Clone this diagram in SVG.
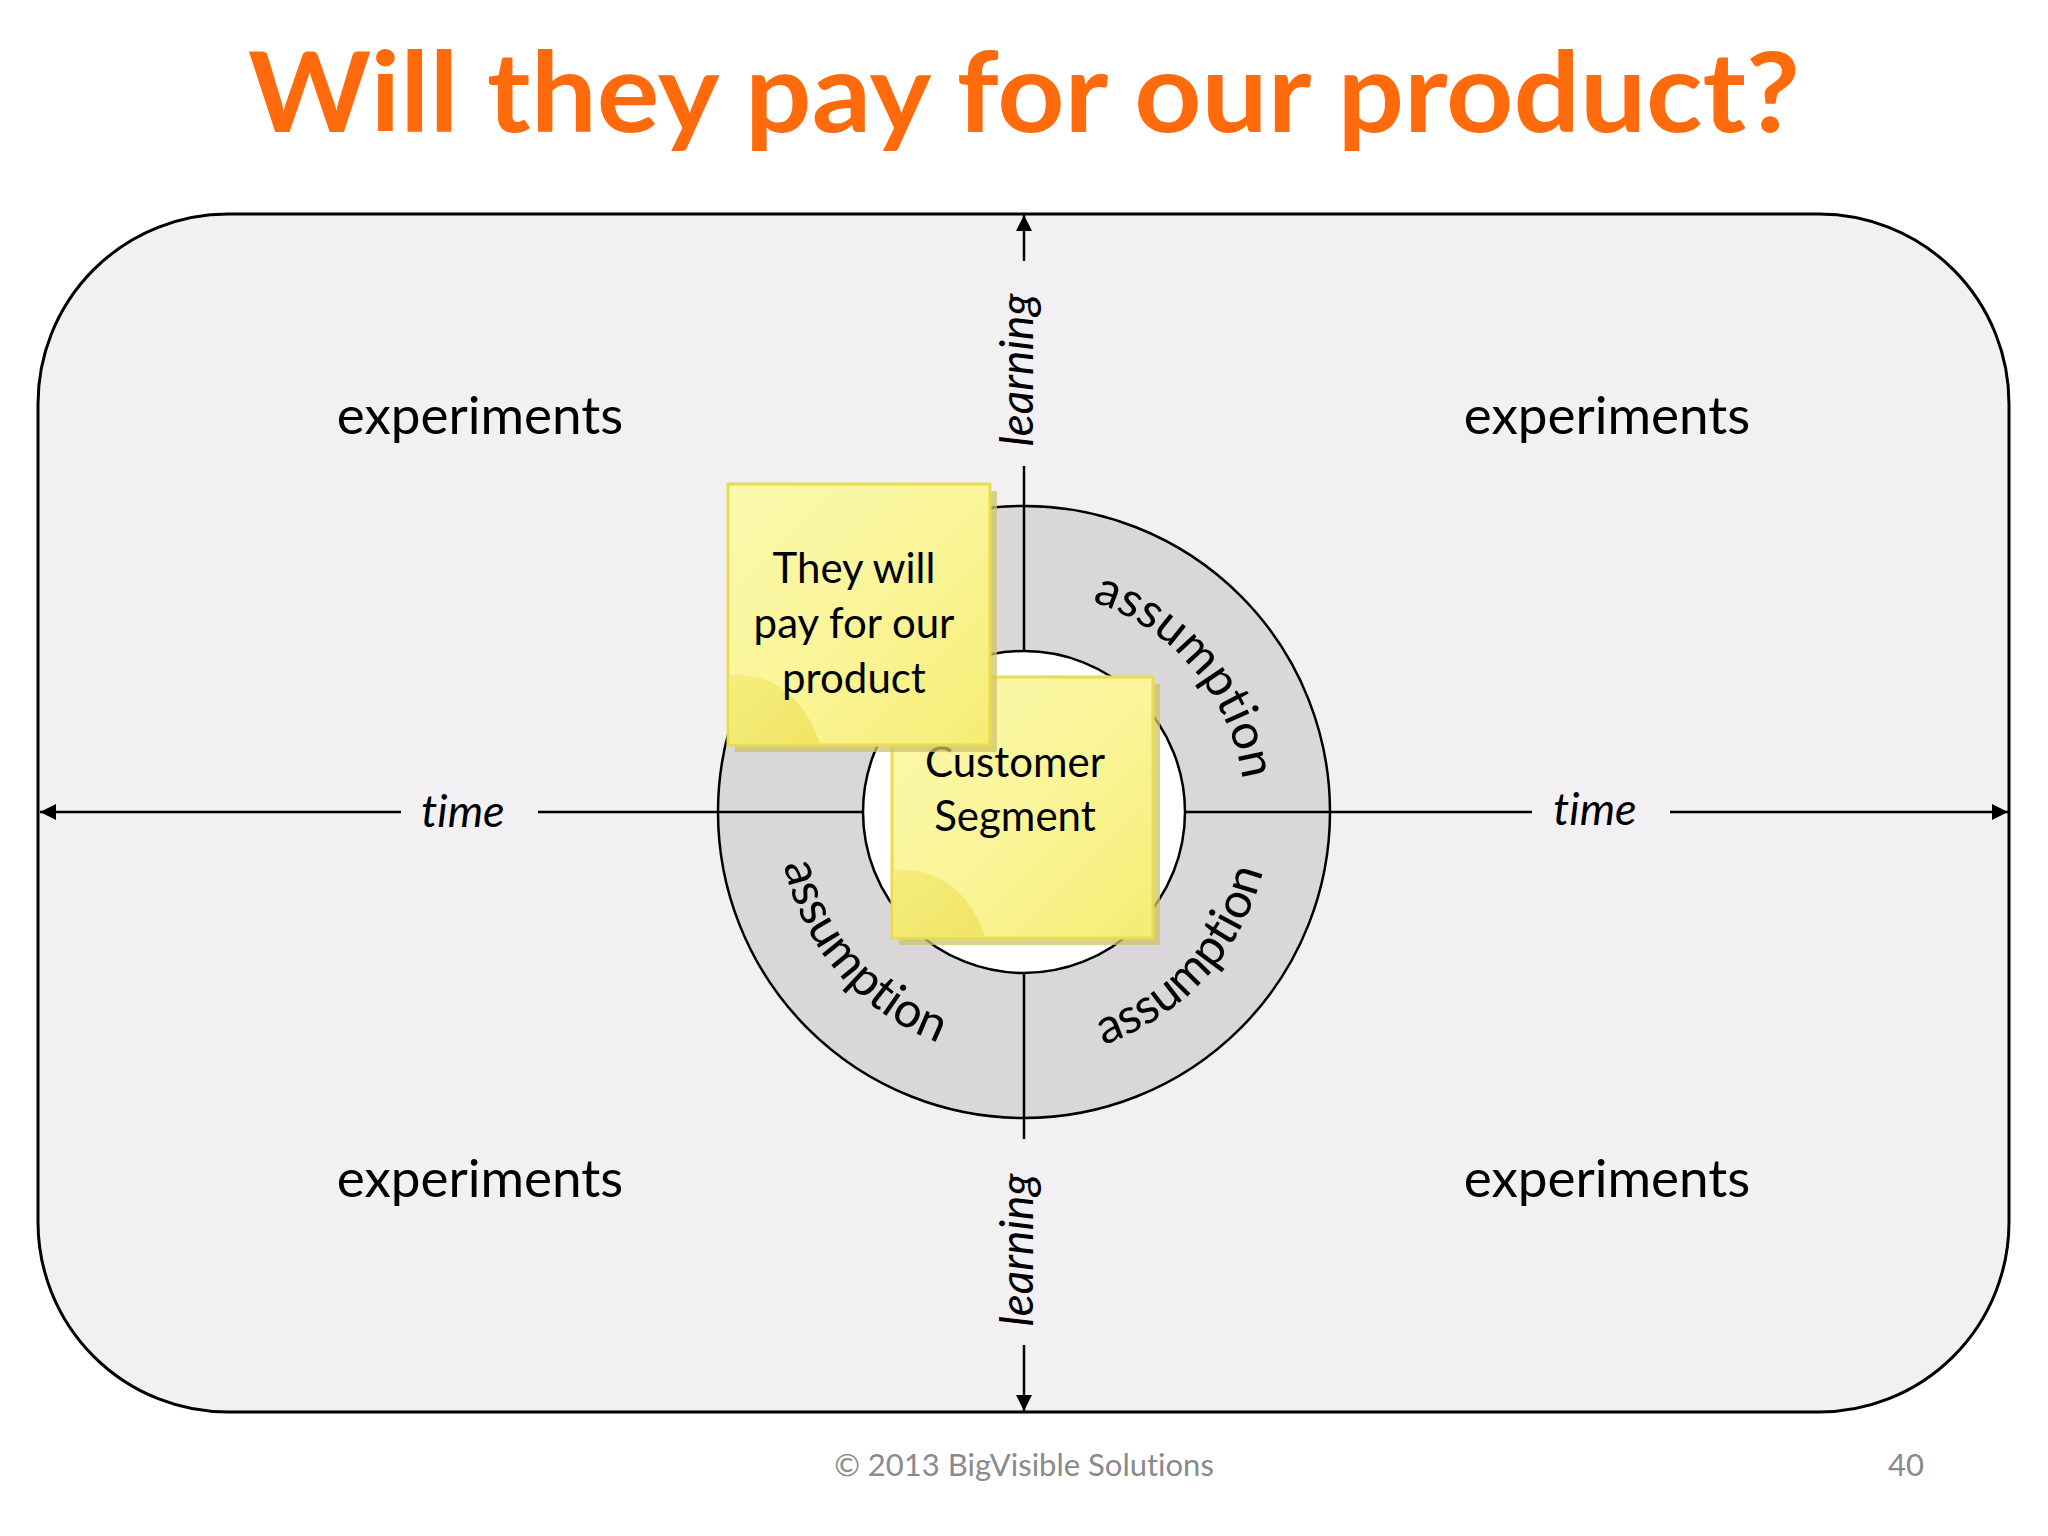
<svg xmlns="http://www.w3.org/2000/svg" width="2048" height="1536" viewBox="0 0 2048 1536">
  <defs>
    <style>
      .lbl { font-family: Lato, "Open Sans", "Liberation Sans", sans-serif; fill: #000; font-variant-ligatures: none; font-feature-settings: "liga" 0, "clig" 0, "dlig" 0; }
      .exp { font-size: 53px; text-anchor: middle; }
      .it { font-style: italic; font-size: 45px; text-anchor: middle; }
      .learn { font-size: 46px; }
      .note { font-size: 42px; text-anchor: middle; }
      .ass { font-size: 49px; }
      .axis { stroke: #000; stroke-width: 2.5; fill: none; }
      .ring { stroke: #000; stroke-width: 2.5; }
      .sticky { fill: url(#stickyGrad); stroke: #e9dc52; stroke-width: 3; }
      .shadow { fill: #cdc36a; opacity: 0.75; }
      .curl { fill: url(#curlGrad); }
      .foot { font-family: Lato, "Open Sans", "Liberation Sans", sans-serif; font-size: 31px; fill: #8a8a8a; font-variant-ligatures: none; font-feature-settings: "liga" 0, "clig" 0, "dlig" 0; }
    </style>
    <marker id="ah" viewBox="0 0 10 10" refX="10" refY="5" markerWidth="20" markerHeight="16" markerUnits="userSpaceOnUse" orient="auto">
      <path d="M0,0 L10,5 L0,10 z" fill="#000"/>
    </marker>
    <linearGradient id="stickyGrad" x1="0" y1="0" x2="1" y2="1">
      <stop offset="0" stop-color="#fbf8ad"/>
      <stop offset="0.5" stop-color="#faf599"/>
      <stop offset="1" stop-color="#f6ec74"/>
    </linearGradient>
    <linearGradient id="curlGrad" x1="0" y1="0" x2="1" y2="1">
      <stop offset="0" stop-color="#f6ee7c"/>
      <stop offset="1" stop-color="#efe466"/>
    </linearGradient>
    <path id="arcTop" d="M1024,591 A221,221 0 0 1 1024,1033 A221,221 0 0 1 1024,591"/>
    <path id="arcBot" d="M778,812 A246,246 0 0 0 1270,812 A246,246 0 0 0 778,812"/>
  </defs>

  <rect width="2048" height="1536" fill="#ffffff"/>

  <g id="title">
    <text x="1024" y="132" textLength="1552" lengthAdjust="spacingAndGlyphs" style="font-family: Lato, 'Open Sans', 'Liberation Sans', sans-serif; font-weight: bold; font-size: 112px; fill: #ff6a0c; text-anchor: middle;">Will they pay for our product?</text>
  </g>

  <g id="canvas">
    <rect x="38" y="214" width="1971" height="1198" rx="190" ry="190" fill="#f2f0f3" stroke="#000" stroke-width="3"/>
  </g>

  <g id="ring-outer">
    <circle cx="1024" cy="812" r="306" fill="#d9d7da" class="ring"/>
  </g>

  <g id="connectors">
    <line x1="401" y1="812" x2="40" y2="812" class="axis" marker-end="url(#ah)"/>
    <line x1="538" y1="812" x2="1532" y2="812" class="axis"/>
    <line x1="1670" y1="812" x2="2008" y2="812" class="axis" marker-end="url(#ah)"/>
    <line x1="1024" y1="261" x2="1024" y2="215" class="axis" marker-end="url(#ah)"/>
    <line x1="1024" y1="466" x2="1024" y2="1139" class="axis"/>
    <line x1="1024" y1="1345" x2="1024" y2="1411" class="axis" marker-end="url(#ah)"/>
  </g>

  <g id="ring-inner">
    <circle cx="1024" cy="812" r="161" fill="#ffffff" class="ring"/>
  </g>

  <g id="assumption-labels" class="lbl ass">
    <text><textPath href="#arcTop" startOffset="192" text-anchor="middle">assumption</textPath></text>
    <text><textPath href="#arcBot" startOffset="176" text-anchor="middle">assumption</textPath></text>
    <text><textPath href="#arcBot" startOffset="590" text-anchor="middle">assumption</textPath></text>
  </g>

  <g id="axis-labels" class="lbl it">
    <text x="463" y="827">time</text>
    <text x="1595" y="825">time</text>
    <text transform="translate(1033,370) rotate(-90)" class="learn">learning</text>
    <text transform="translate(1033,1250) rotate(-90)" class="learn">learning</text>
  </g>

  <g id="experiments" class="lbl exp">
    <text x="480" y="434">experiments</text>
    <text x="1607" y="434">experiments</text>
    <text x="480" y="1197">experiments</text>
    <text x="1607" y="1197">experiments</text>
  </g>

  <g id="sticky-customer-segment">
    <rect x="899" y="684" width="261" height="261" class="shadow"/>
    <rect x="892" y="677" width="261" height="261" class="sticky"/>
    <path d="M893.5,870 Q960,866 985,936.5 L893.5,936.5 Z" class="curl"/>
    <text x="1015" y="777" class="lbl note">Customer</text>
    <text x="1015" y="831" class="lbl note">Segment</text>
  </g>

  <g id="sticky-they-will-pay">
    <rect x="735" y="491" width="262" height="261" class="shadow"/>
    <rect x="728" y="484" width="262" height="261" class="sticky"/>
    <path d="M729.5,675 Q795,672 820,743.5 L729.5,743.5 Z" class="curl"/>
    <text x="854" y="583" class="lbl note">They will</text>
    <text x="854" y="638" class="lbl note">pay for our</text>
    <text x="854" y="693" class="lbl note">product</text>
  </g>

  <g id="footer" class="foot">
    <text x="1024" y="1476" text-anchor="middle">© 2013 BigVisible Solutions</text>
    <text x="1924" y="1476" text-anchor="end">40</text>
  </g>
</svg>
